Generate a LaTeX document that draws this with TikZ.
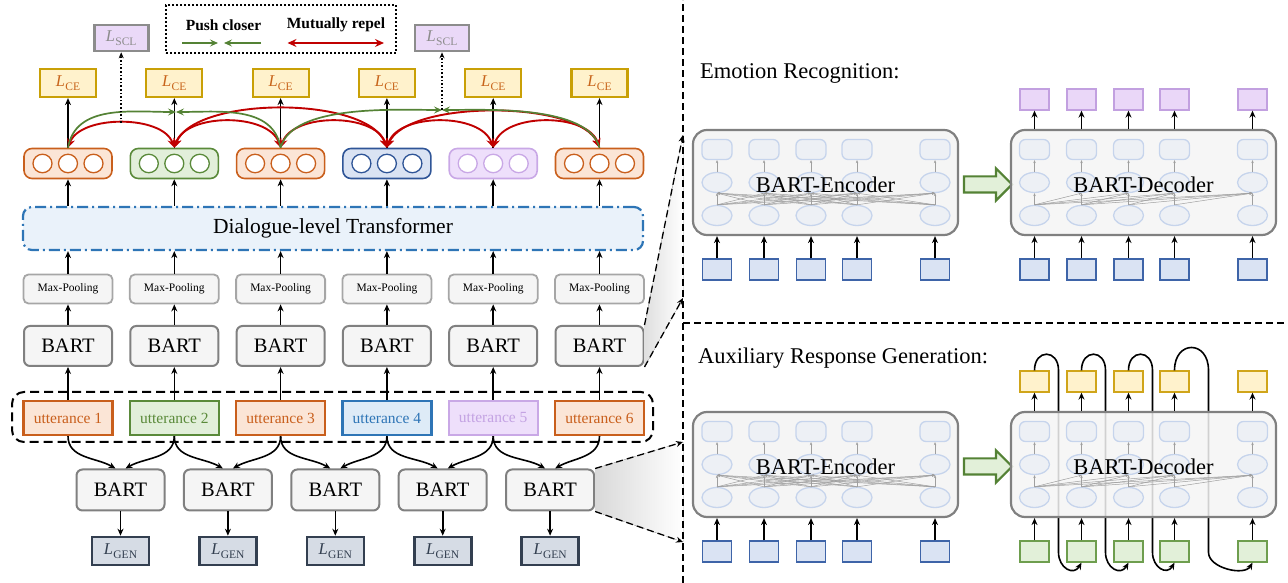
\documentclass[tikz,border=0pt]{standalone}
\usepackage{fontspec}
\setmainfont{Liberation Serif}
\usetikzlibrary{positioning, shapes, arrows.meta, calc}

\definecolor{ornBd}{HTML}{C95F1C}
\definecolor{ornFl}{HTML}{FBE5D6}
\definecolor{grnBd}{HTML}{5A8A3A}
\definecolor{grnFl}{HTML}{E2EFDA}
\definecolor{bluBd}{HTML}{2E75B6}
\definecolor{bluFl}{HTML}{DEEBF7}
\definecolor{dbluBd}{HTML}{2F5597}
\definecolor{dbluFl}{HTML}{DAE3F3}
\definecolor{purBd}{HTML}{C9A8E6}
\definecolor{purFl}{HTML}{EEDFFB}
\definecolor{purTx}{HTML}{C4A3E3}
\definecolor{goldBd}{HTML}{C9A006}
\definecolor{ylwFl}{HTML}{FFF2CC}
\definecolor{ceTxt}{HTML}{C8651B}
\definecolor{boxGray}{HTML}{808080}
\definecolor{poolGray}{HTML}{A6A6A6}
\definecolor{boxFl}{HTML}{F5F5F5}
\definecolor{genBd}{HTML}{333F50}
\definecolor{genFl}{HTML}{D6DCE5}
\definecolor{sclFl}{HTML}{EAD9F8}
\definecolor{sclTx}{HTML}{8C8C8C}
\definecolor{repRed}{HTML}{C00000}
\definecolor{pushGrn}{HTML}{548235}
\definecolor{trFl}{HTML}{EAF2FA}
\definecolor{cellBd}{HTML}{C6D4EC}
\definecolor{cellFl}{HTML}{EDF0F5}
\definecolor{sqBd}{HTML}{3E64A8}
\definecolor{sqFl}{HTML}{DAE3F3}
\definecolor{gsqBd}{HTML}{6E9E4E}
\definecolor{gsqFl}{HTML}{E2F0D9}
\definecolor{ysqBd}{HTML}{D0A51A}
\definecolor{psqBd}{HTML}{C2A0E0}
\definecolor{psqFl}{HTML}{EAD7F8}

\newcommand{\lossof}[1]{\textit{L}\kern.3pt\raisebox{-3.5pt}{\fontsize{11.5}{11.5}\selectfont #1}}

\tikzset{
  arr/.style={->, line width=1.6pt, >={Stealth[length=7pt,width=6pt]}},
  cellarr/.style={->, draw=gray!75, line width=0.5pt, >={Stealth[length=3pt,width=2.5pt]}},
  redarc/.style={<->, draw=repRed, line width=1.9pt, >={Stealth[length=9pt,width=8pt,inset=3pt]}},
  greenarc/.style={->, draw=pushGrn, line width=1.7pt, >={Stealth[length=8pt,width=7pt,inset=3pt]}},
  dotarr/.style={->, dotted, line width=1.6pt, >={Stealth[length=6pt,width=5pt]}},
  zoomline/.style={line width=1.3pt, dash pattern=on 7pt off 4pt},
  zoomarr/.style={->, line width=1.3pt, dash pattern=on 7pt off 4pt, >={Stealth[length=7pt,width=6pt]}},
  bartbox/.style={draw=boxGray, fill=boxFl, line width=2pt, rounded corners=6pt, minimum width=88pt, minimum height=40pt, font=\fontsize{20.5}{24}\selectfont},
  poolbox/.style={draw=poolGray, fill=boxFl, line width=1.8pt, rounded corners=5pt, minimum width=89pt, minimum height=29pt, font=\fontsize{11.5}{13}\selectfont},
  uttbox/.style={line width=2.2pt, minimum width=89pt, minimum height=34pt, font=\fontsize{15.5}{18}\selectfont},
  cebox/.style={draw=goldBd, fill=ylwFl, line width=2.2pt, minimum width=56pt, minimum height=28pt, text=ceTxt, font=\fontsize{16.5}{18}\selectfont},
  sclbox/.style={draw=sclTx, fill=sclFl, line width=2.6pt, minimum width=54pt, minimum height=26pt, text=sclTx, font=\fontsize{16.5}{18}\selectfont},
  genbox/.style={draw=genBd, fill=genFl, line width=2.6pt, minimum width=57pt, minimum height=28pt, text=genBd, font=\fontsize{16.5}{18}\selectfont},
  grpbox/.style={rounded corners=8pt, line width=1.6pt, minimum width=88pt, minimum height=30pt},
  dot/.style={ellipse, line width=1.3pt, fill=white, minimum width=19pt, minimum height=18.5pt, inner sep=0pt},
  blockbox/.style={draw=boxGray, fill=boxFl, line width=2.2pt, rounded corners=14pt, minimum width=265pt, minimum height=105pt},
  cellr/.style={draw=cellBd, fill=cellFl, line width=1.3pt, rounded corners=6pt, minimum width=30pt, minimum height=20pt, inner sep=0pt},
  celle/.style={ellipse, draw=cellBd, fill=cellFl, line width=1.3pt, minimum width=30pt, minimum height=20pt, inner sep=0pt},
  insq/.style={draw=sqBd, fill=sqFl, line width=1.3pt, minimum width=29pt, minimum height=21pt, inner sep=0pt},
  boxlabel/.style={font=\fontsize{22.5}{26}\selectfont, inner sep=0pt},
  blockarrow/.style={single arrow, draw=pushGrn, fill=gsqFl, line width=2.2pt, minimum height=48pt, inner sep=7pt, single arrow head extend=8pt}
}

\begin{document}
\begin{tikzpicture}[x=1pt, y=1pt]
\useasboundingbox (0,0) rectangle (1288,583);

% Zoom targets
\coordinate (zt1) at (683,448);
\coordinate (zt2) at (683,285);
\coordinate (zb1) at (683,141);
\coordinate (zb2) at (683,41);

% Left column
\foreach \i/\ubd/\ufl/\utx/\gbd/\gfl in {1/ornBd/ornFl/ornBd/ornBd/ornFl, 2/grnBd/grnFl/grnBd/grnBd/grnFl, 3/ornBd/ornFl/ornBd/ornBd/ornFl, 4/bluBd/bluFl/bluBd/dbluBd/dbluFl, 5/purBd/purFl/purTx/purBd/purFl, 6/ornBd/ornFl/ornBd/ornBd/ornFl}{
  \pgfmathsetmacro{\cx}{68+106.3*(\i-1)}
  \node[uttbox, draw=\ubd, fill=\ufl, text=\utx] (utt\i) at (\cx,165) {utterance \i};
  \node[bartbox] (bt\i) at (\cx,237) {BART};
  \node[poolbox] (mp\i) at (\cx,294) {Max-Pooling};
  \node[grpbox, draw=\gbd, fill=\gfl] (grp\i) at (\cx,419.5) {};
  \foreach \d/\o in {a/-25.5,b/0,c/25.5}{
    \node[dot, draw=\gbd] (grp\i\d) at ([xshift=\o pt]grp\i.center) {};
  }
  \node[cebox] (ce\i) at (\cx,500) {\lossof{CE}};
}
\node[draw=bluBd, fill=trFl, line width=2.2pt, rounded corners=9pt, dash pattern=on 11pt off 4pt on 2pt off 4pt, minimum width=620pt, minimum height=43pt, font=\fontsize{21.5}{24}\selectfont] (tr) at (333,354.5) {Dialogue-level Transformer};
\node[draw, line width=2pt, dash pattern=on 9pt off 5pt, rounded corners=12pt, minimum width=641pt, minimum height=50pt] (uttframe) at (332.5,166) {};

% Arrows
\foreach \i in {1,...,6}{
  \draw[arr] (utt\i) -- (bt\i);
  \draw[arr] (bt\i) -- (mp\i);
  \draw[arr] (mp\i) -- (mp\i |- tr.south);
  \draw[arr] (grp\i |- tr.north) -- (grp\i);
  \draw[arr] (grp\i) -- (ce\i);
}

% Generation branch
\foreach \j in {1,...,5}{
  \pgfmathsetmacro{\bx}{120.5+107.4*(\j-1)}
  \pgfmathtruncatemacro{\nxt}{\j+1}
  \node[bartbox, minimum height=41pt] (bb\j) at (\bx,93) {BART};
  \node[genbox] (gen\j) at (\bx,32) {\lossof{GEN}};
  \draw[arr] (bb\j) -- (gen\j);
  \draw[arr] (utt\j.south) to[out=-90,in=150] ([xshift=-5pt]bb\j.north);
  \draw[arr] (utt\nxt.south) to[out=-90,in=30] ([xshift=5pt]bb\j.north);
}

% Contrastive arcs
\coordinate (m1) at (176,471);
\coordinate (m2) at (442,473);
\coordinate (r12) at (121.2,460);
\draw[redarc] (grp1.north) .. controls +(12,33) and +(-12,33) .. (grp2.north);
\draw[redarc] (grp2.north) .. controls +(12,35) and +(-12,35) .. (grp3.north);
\draw[redarc] (grp2.north) .. controls +(20,52) and +(-20,52) .. (grp4.north);
\draw[redarc] (grp3.north) .. controls +(12,35) and +(-12,35) .. (grp4.north);
\draw[redarc] (grp4.north) .. controls +(12,35) and +(-12,35) .. (grp5.north);
\draw[redarc] (grp4.north) .. controls +(20,48) and +(-20,48) .. (grp6.north);
\draw[redarc] (grp5.north) .. controls +(12,35) and +(-12,35) .. (grp6.north);
\draw[greenarc] (grp1.north) to[out=80,in=180] (m1);
\draw[greenarc] (grp3.north) to[out=100,in=0] (m1);
\draw[greenarc] (grp3.north) to[out=75,in=180,looseness=0.7] (m2);
\draw[greenarc] (grp6.north) to[out=105,in=0,looseness=0.7] (m2);

% SCL losses
\node[sclbox] (scl1) at (121.2,545) {\lossof{SCL}};
\node[sclbox] (scl2) at (442,545) {\lossof{SCL}};
\draw[dotarr] (r12) -- (r12 |- scl1.south);
\draw[dotarr] (m2) -- (m2 |- scl2.south);

% Legend
\node[draw, line width=1.6pt, dash pattern=on 2pt off 2pt, minimum width=230pt, minimum height=48pt] (legend) at (281,554) {};
\node[font=\bfseries\fontsize{15.5}{18}\selectfont] (pushtxt) at (223.5,558) {Push closer};
\node[font=\bfseries\fontsize{15.5}{18}\selectfont] (reptxt) at (336,558) {Mutually repel};
\coordinate (pa) at (182,540);
\coordinate (pb) at (218,540);
\coordinate (pc) at (224,540);
\coordinate (pd) at (261,540);
\coordinate (ra) at (287.5,540);
\coordinate (rb) at (384,540);
\draw[greenarc] (pa) -- (pb);
\draw[greenarc] (pd) -- (pc);
\draw[redarc] (ra) -- (rb);

% Zoom into the right panels
\fill[left color=gray!25, right color=white] (bt6.north east) -- (zt1) -- (zt2) -- (bt6.south east) -- cycle;
\fill[left color=gray!30, right color=white] (bb5.north east) -- (zb1) -- (zb2) -- (bb5.south east) -- cycle;
\draw[zoomarr] (bt6.north east) -- (zt1);
\draw[zoomarr] (bt6.south east) -- (zt2);
\draw[zoomarr] (bb5.north east) -- (zb1);
\draw[zoomarr] (bb5.south east) -- (zb2);
\draw[zoomline] (683,0) -- (683,583);
\draw[zoomline] (683,260) -- (1288,260);

\node[boxlabel, anchor=west] (ertitle) at (700,510) {Emotion Recognition:};
\node[boxlabel, anchor=west] (argtitle) at (698,225) {Auxiliary Response Generation:};

% Right panels
\foreach \p/\yc/\dib/\dif/\dob/\dof in {1/400.5/sqBd/sqFl/psqBd/psqFl, 2/118.5/gsqBd/gsqFl/ysqBd/ylwFl}{
  \node[blockbox] (enc\p) at (825.5,\yc) {};
  \foreach \k/\o in {1/24,2/71,3/118,4/164,5/242}{
    \node[cellr] (e\p-t\k) at (693+\o,\yc+33) {};
    \node[celle] (e\p-m\k) at (693+\o,\yc) {};
    \node[celle] (e\p-b\k) at (693+\o,\yc-33) {};
    \draw[cellarr] (e\p-m\k) -- (e\p-t\k);
    \node[insq] (e\p-in\k) at (693+\o,\yc-87) {};
    \draw[arr] (e\p-in\k) -- (e\p-in\k |- enc\p.south);
  }
  \foreach \k in {1,...,5}{
    \foreach \l in {1,...,5}{
      \draw[cellarr] (e\p-b\k.north) -- (e\p-m\l.south);
    }
  }
  \node[boxlabel] (encl\p) at ([yshift=-2pt]enc\p.center) {BART-Encoder};
  \node[blockarrow] (blk\p) at (984,\yc-2) {};

  \foreach \k/\o in {1/24,2/71,3/118,4/164,5/242}{
    \node[insq, draw=\dib, fill=\dif] (d\p-in\k) at (1010.5+\o,\yc-87) {};
    \node[insq, draw=\dob, fill=\dof] (d\p-out\k) at (1010.5+\o,\yc+83) {};
  }
  \ifnum\p=2\relax
    \foreach \k/\nxt/\sh/\lz in {1/2/24/1.6,2/3/24/1.6,3/4/24/1.6,4/5/34/0.9}{
      \draw[arr] (d2-out\k.north) to[out=90,in=90,looseness=2.3] ++(\sh,0) -- ++(0,-182) to[out=-90,in=-120,looseness=\lz] (d2-in\nxt.south);
    }
  \fi
  \node[blockbox, fill opacity=0.85] (dec\p) at (1143.5,\yc) {};
  \foreach \k/\o in {1/24,2/71,3/118,4/164,5/242}{
    \node[cellr] (d\p-t\k) at (1010.5+\o,\yc+33) {};
    \node[celle] (d\p-m\k) at (1010.5+\o,\yc) {};
    \node[celle] (d\p-b\k) at (1010.5+\o,\yc-33) {};
    \draw[cellarr] (d\p-m\k) -- (d\p-t\k);
    \draw[arr] (d\p-in\k) -- (d\p-in\k |- dec\p.south);
    \draw[arr] (d\p-out\k |- dec\p.north) -- (d\p-out\k);
  }
  \foreach \k in {1,...,5}{
    \foreach \l in {\k,...,5}{
      \draw[cellarr] (d\p-b\k.north) -- (d\p-m\l.south);
    }
  }
  \node[boxlabel] (decl\p) at ([yshift=-2pt]dec\p.center) {BART-Decoder};
}
\end{tikzpicture}
\end{document}
